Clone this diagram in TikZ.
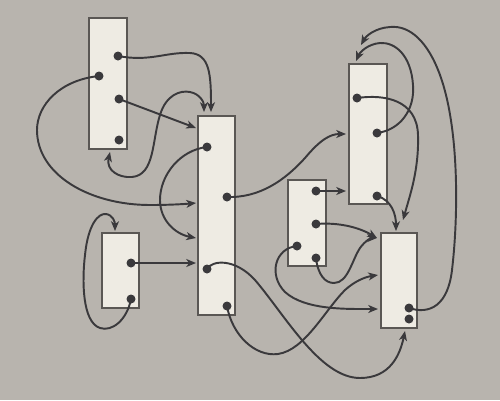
\documentclass[tikz,border=0pt]{standalone}
\usetikzlibrary{arrows.meta}
\definecolor{bg}{HTML}{B8B4AE}
\definecolor{boxfill}{HTML}{EEEBE3}
\definecolor{boxline}{HTML}{5A5754}
\definecolor{ink}{HTML}{3A393C}
\begin{document}
\begin{tikzpicture}[x=0.02cm,y=-0.02cm,
  box/.style 2 args={draw=boxline, fill=boxfill, line width=0.6pt,
    minimum width=#1*0.02cm, minimum height=#2*0.02cm, inner sep=0pt, outer sep=0pt},
  dot/.style={circle, fill=ink, minimum size=0.18cm, inner sep=0pt},
  link/.style={draw=ink, line width=1.1pt, -{Stealth[length=5.5pt,width=4.5pt,inset=1.5pt]}},
  dlink/.style={draw=ink, line width=1.1pt, {Stealth[length=5.5pt,width=4.5pt,inset=1.5pt]}-{Stealth[length=5.5pt,width=4.5pt,inset=1.5pt]}}]
\fill[bg] (0,0) rectangle (500,400);
\useasboundingbox (0,0) rectangle (500,400);

% boxes
\node[box={38}{131}] (A) at (108,83.5) {};
\node[box={37}{199}] (B) at (216.5,215.5) {};
\node[box={37}{75}]  (C) at (120.5,270.5) {};
\node[box={38}{140}] (D) at (368,134) {};
\node[box={38}{86}]  (E) at (307,223) {};
\node[box={36}{95}]  (F) at (399,280.5) {};

% dots
\node[dot] (a1) at (118,56) {};
\node[dot] (a2) at (99,76) {};
\node[dot] (a3) at (119,99) {};
\node[dot] (a4) at (119,140) {};
\node[dot] (b1) at (207,147) {};
\node[dot] (b2) at (227,197) {};
\node[dot] (b3) at (207,269) {};
\node[dot] (b4) at (227,306) {};
\node[dot] (c1) at (131,263) {};
\node[dot] (c2) at (131,299) {};
\node[dot] (d1) at (357,98) {};
\node[dot] (d2) at (377,133) {};
\node[dot] (d3) at (377,196) {};
\node[dot] (e1) at (316,191) {};
\node[dot] (e2) at (316,224) {};
\node[dot] (e3) at (297,246) {};
\node[dot] (e4) at (316,258) {};
\node[dot] (f1) at (409,308) {};
\node[dot] (f2) at (409,319) {};

% arrow tips
\coordinate (tB1) at (211,112);
\coordinate (tB2) at (204,112);
\coordinate (tA)  at (110,152);
\coordinate (tB3) at (196,128);
\coordinate (tB4) at (196,203);
\coordinate (tB5) at (196,238);
\coordinate (tB6) at (196,263);
\coordinate (tC)  at (115,231);
\coordinate (tD1) at (346,134);
\coordinate (tD2) at (346,191);
\coordinate (tD3) at (356,61);
\coordinate (tD4) at (361,45);
\coordinate (tF1) at (405,331);
\coordinate (tF2) at (378,275);
\coordinate (tF3) at (378,309);
\coordinate (tF4) at (377,238);
\coordinate (tF5) at (396,231);
\coordinate (tF6) at (403,220);

% connectors
\draw[link] (a1.center) .. controls (150,62) and (165,52) .. (190,53)
  .. controls (210,54) and (211,75) .. (tB1);
\draw[dlink] (tA) .. controls (106,170) and (118,178) .. (132,177)
  .. controls (155,175) and (152,140) .. (160,115)
  .. controls (166,95) and (180,90) .. (190,92)
  .. controls (200,94) and (204,102) .. (tB2);
\draw[link] (a3.center) -- (tB3);
\draw[link] (a2.center) .. controls (60,80) and (37,105) .. (37,130)
  .. controls (37,175) and (90,205) .. (150,205)
  .. controls (170,205) and (185,204) .. (tB4);
\draw[link] (b1.center) .. controls (180,150) and (160,175) .. (160,200)
  .. controls (160,220) and (175,234) .. (tB5);
\draw[link] (b2.center) .. controls (260,198) and (285,180) .. (305,158)
  .. controls (320,140) and (330,134) .. (tD1);
\draw[link] (c1.center) -- (tB6);
\draw[link] (c2.center) .. controls (127,320) and (112,332) .. (100,328)
  .. controls (82,322) and (82,280) .. (85,255)
  .. controls (88,225) and (98,213) .. (106,214)
  .. controls (113,215) and (115,222) .. (tC);
\draw[link] (b3.center) .. controls (212,260) and (235,258) .. (255,280)
  .. controls (285,315) and (320,378) .. (360,378)
  .. controls (390,378) and (400,355) .. (tF1);
\draw[link] (b4.center) .. controls (232,335) and (255,357) .. (278,354)
  .. controls (305,350) and (325,310) .. (345,290)
  .. controls (355,281) and (365,277) .. (tF2);
\draw[link] (e3.center) .. controls (275,248) and (268,275) .. (285,292)
  .. controls (305,310) and (345,309) .. (tF3);
\draw[link] (e4.center) .. controls (318,275) and (325,283) .. (334,283)
  .. controls (348,283) and (352,260) .. (360,248)
  .. controls (365,241) and (371,238) .. (tF4);
\draw[link] (e2.center) .. controls (340,222) and (360,228) .. (tF4);
\draw[link] (e1.center) -- (tD2);
\draw[link] (d3.center) .. controls (392,200) and (396,215) .. (tF5);
\draw[link] (d1.center) .. controls (385,94) and (417,100) .. (418,135)
  .. controls (419,170) and (410,195) .. (tF6);
\draw[link] (d2.center) .. controls (400,130) and (415,110) .. (413,85)
  .. controls (411,55) and (395,42) .. (380,43)
  .. controls (368,44) and (360,52) .. (tD3);
\draw[link] (f1.center) .. controls (430,315) and (448,305) .. (452,270)
  .. controls (458,220) and (460,130) .. (440,75)
  .. controls (428,42) and (410,25) .. (390,27)
  .. controls (375,28) and (366,36) .. (tD4);
\end{tikzpicture}
\end{document}
